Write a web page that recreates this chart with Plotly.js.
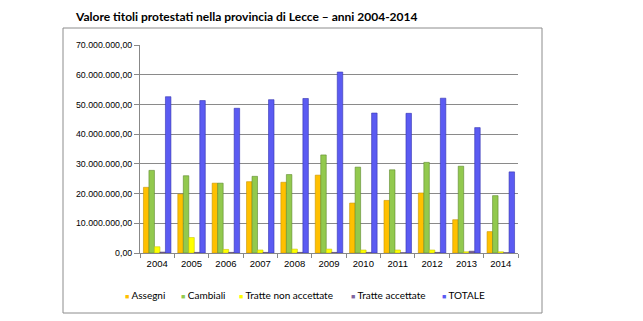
<!DOCTYPE html>
<html>
<head>
<meta charset="utf-8">
<script src="https://cdn.plot.ly/plotly-3.0.1.min.js"></script>
<style>html,body{margin:0;padding:0;background:#fff;}#chart{width:643px;height:321px;}</style>
</head>
<body>
<div id="chart"></div>
<script>
var years = ['2004','2005','2006','2007','2008','2009','2010','2011','2012','2013','2014'];
var assegni = [22.1e6, 19.8e6, 23.5e6, 24.0e6, 23.8e6, 26.2e6, 16.8e6, 17.7e6, 20.2e6, 11.2e6, 7.2e6];
var cambiali = [27.8e6, 26.0e6, 23.5e6, 25.8e6, 26.4e6, 33.0e6, 28.9e6, 28.0e6, 30.5e6, 29.2e6, 19.3e6];
var tratteNonAccettate = [2.1e6, 5.2e6, 1.2e6, 1.0e6, 1.3e6, 1.3e6, 1.0e6, 1.0e6, 1.0e6, 0.4e6, 0.4e6];
var tratteAccettate = [0.3e6, 0.2e6, 0.2e6, 0.2e6, 0.2e6, 0.2e6, 0.2e6, 0.1e6, 0.2e6, 0.6e6, 0.1e6];
var totale = [52.6e6, 51.3e6, 48.7e6, 51.6e6, 52.0e6, 60.9e6, 47.1e6, 47.0e6, 52.1e6, 42.2e6, 27.3e6];
var yTickVals = [0, 10e6, 20e6, 30e6, 40e6, 50e6, 60e6, 70e6];
var yTickText = ['0,00','10.000.000,00','20.000.000,00','30.000.000,00','40.000.000,00','50.000.000,00','60.000.000,00','70.000.000,00'];
var seriesNames = ['Assegni','Cambiali','Tratte non accettate','Tratte accettate','TOTALE'];
var seriesValues = [assegni, cambiali, tratteNonAccettate, tratteAccettate, totale];

var colors = ['#FFC000','#92C94E','#FFFF00','#7F659F','#5B5BF2'];
var edges = ['#C89600','#5E8A2E','#C8C800','#4F3F6A','#3434B0'];
// legend entry left positions (px, container)
var legendX = [123, 179, 237, 349, 440];

var traces = [];
seriesNames.forEach(function(n, i){
  traces.push({
    type:'bar', name:n, x:years, y:seriesValues[i], showlegend:false,
    marker:{color:colors[i], line:{color:edges[i], width:0.6}},
    hoverinfo:'skip'
  });
});

var annotations = seriesNames.map(function(n, i){
  return {
    xref:'paper', yref:'paper', x:(legendX[i]-140)/378, y:(253-295)/208,
    xanchor:'left', yanchor:'middle', showarrow:false,
    text:'<span style="color:' + colors[i] + ';font-size:7px">\u25A0</span> ' + n,
    font:{family:'Lato, sans-serif', size:10, color:'#000'}
  };
});

var layout = {
  width:643, height:321,
  margin:{l:140, r:125, t:45, b:68},
  paper_bgcolor:'#fff', plot_bgcolor:'#fff',
  barmode:'group', bargap:0.2, bargroupgap:0,
  showlegend:false,
  title:{text:'<b>Valore titoli protestati nella provincia di Lecce \u2013 anni 2004-2014</b>',
    font:{family:'Lato, sans-serif', size:12, color:'#000'},
    x:76/643, xanchor:'left', y:1-16.5/321, yanchor:'middle', xref:'container', yref:'container'},
  xaxis:{type:'category', tickfont:{family:'Liberation Sans, Arial', size:9.5, color:'#000'},
    showline:true, linecolor:'#888', ticks:'outside', ticklen:4, tickcolor:'#888', tickson:'boundaries',
    ticklabelstandoff:2, showgrid:false, fixedrange:true},
  yaxis:{range:[0,70e6], tickvals:yTickVals, ticktext:yTickText,
    tickfont:{family:'Liberation Sans, Arial', size:8.8, color:'#000'},
    showline:true, linecolor:'#888', ticks:'outside', ticklen:5, tickcolor:'#888',
    gridcolor:'#8a8a8a', gridwidth:1, zeroline:false, fixedrange:true},
  annotations:annotations,
  shapes:[{type:'rect', xref:'paper', yref:'paper', x0:(63-140)/378, x1:(542-140)/378,
    y0:(253-313)/208, y1:(253-28)/208, line:{color:'#8c8c8c', width:1}, fillcolor:'rgba(0,0,0,0)', layer:'below'}]
};
Plotly.newPlot('chart', traces, layout, {displayModeBar:false, staticPlot:true});
</script>
</body>
</html>
